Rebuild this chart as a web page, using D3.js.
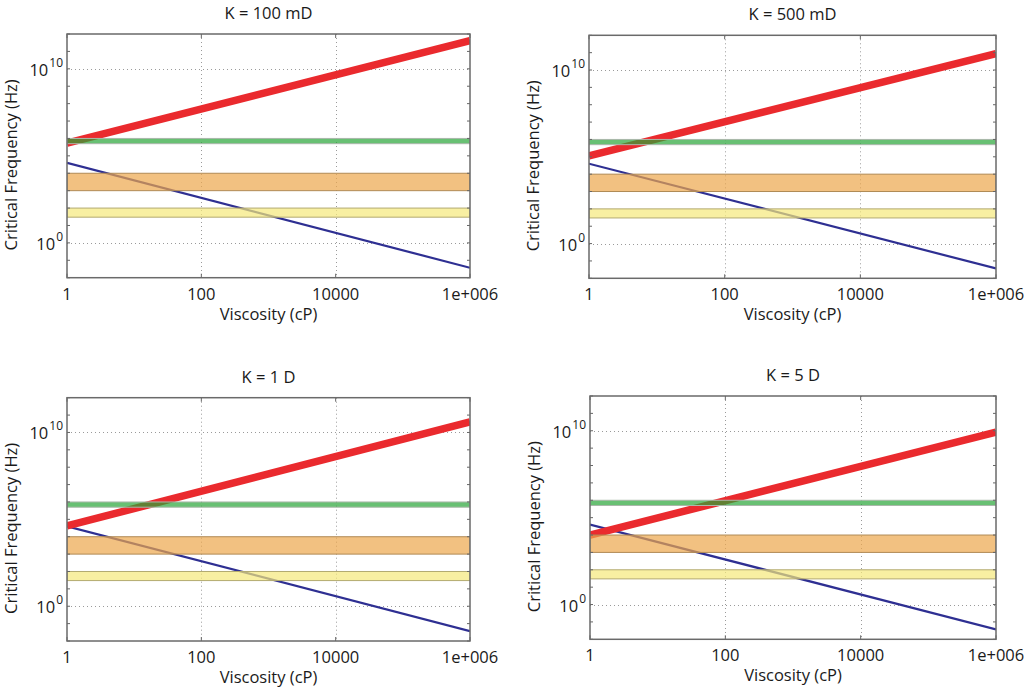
<!DOCTYPE html>
<html><head><meta charset="utf-8">
<script src="https://cdn.jsdelivr.net/npm/d3@7"></script>
<style>
body{margin:0;background:#fff;}
text{font-family:"Open Sans","Liberation Sans",sans-serif;fill:#1a1a1a;}
</style></head>
<body>
<svg id="c" width="1026" height="687"></svg>
<script>
// ---- data ----
const titles = ["K = 100 mD", "K = 500 mD", "K = 1 D", "K = 5 D"];
const viscosityRange = [1, 1e6];
const freqRange = [1e-2, 1e12];
// red (Biot critical frequency) line: value at 1 cP and at 1e6 cP, per panel
const redAt1 = [5.4e5, 1.12e5, 4.2e4, 1.0e4];
const redAt1e6 = [4.2e11, 8.7e10, 4.1e10, 8.3e9];
// blue line (same for all panels)
const blueAt1 = 4.0e4;
const blueAt1e6 = 0.037;
// frequency bands [low, high]
const bandNames = ["ultrasonic", "sonic", "seismic"];
const bandLow = [5e5, 1e3, 30];
const bandHigh = [1e6, 1e4, 100];
const xTickValues = [1, 100, 10000, 1e6];
const xTickLabels = ["1", "100", "10000", "1e+006"];
const yTickValues = [1, 1e10];
const yTickExp = ["0", "10"];

// ---- layout ----
const boxes = [
  {x0: 67, x1: 470, y0: 34, y1: 277.7},
  {x0: 589, x1: 996, y0: 35.3, y1: 278.3},
  {x0: 67, x1: 470, y0: 397.7, y1: 641},
  {x0: 590, x1: 996, y0: 396, y1: 639.3}
];
const bandFill = ["rgb(40,165,55)", "rgb(236,166,76)", "rgb(245,232,122)"];
const bandStroke = ["#aab8aa", "#b08a55", "#b3aa70"];
const FS = 16.5;

const svg = d3.select("#c");

boxes.forEach((b, i) => {
  const x = d3.scaleLog().domain(viscosityRange).range([b.x0, b.x1]);
  const y = d3.scaleLog().domain(freqRange).range([b.y1, b.y0]);
  const g = svg.append("g");
  const clipId = "clip" + i;
  svg.append("clipPath").attr("id", clipId).append("rect")
    .attr("x", b.x0).attr("y", b.y0).attr("width", b.x1 - b.x0).attr("height", b.y1 - b.y0);

  // grid
  const grid = g.append("g").attr("stroke", "#9a9a9a").attr("stroke-width", 1)
    .attr("stroke-dasharray", "1,3");
  grid.selectAll(".gx").data(xTickValues.slice(1, -1)).join("line")
    .attr("x1", d => Math.round(x(d)) + 0.5).attr("x2", d => Math.round(x(d)) + 0.5)
    .attr("y1", b.y0).attr("y2", b.y1);
  grid.selectAll(".gy").data(yTickValues).join("line")
    .attr("y1", d => Math.round(y(d)) + 0.5).attr("y2", d => Math.round(y(d)) + 0.5)
    .attr("x1", b.x0).attr("x2", b.x1);

  const plot = g.append("g").attr("clip-path", `url(#${clipId})`);
  const line = d3.line().x(d => x(d[0])).y(d => y(d[1]));
  // blue line
  plot.append("path").datum([[viscosityRange[0], blueAt1], [viscosityRange[1], blueAt1e6]])
    .attr("d", line).attr("fill", "none").attr("stroke", "#2e2f92").attr("stroke-width", 2.2);
  // red line
  plot.append("path").datum([[viscosityRange[0], redAt1[i]], [viscosityRange[1], redAt1e6[i]]])
    .attr("d", line).attr("fill", "none").attr("stroke", "#ea2a2e").attr("stroke-width", 7.5);
  // bands
  plot.selectAll(".band").data(bandNames).join("rect")
    .attr("x", b.x0).attr("width", b.x1 - b.x0)
    .attr("y", (d, j) => y(bandHigh[j])).attr("height", (d, j) => y(bandLow[j]) - y(bandHigh[j]))
    .attr("fill", (d, j) => bandFill[j]).attr("fill-opacity", 0.7)
    .attr("stroke", (d, j) => bandStroke[j]).attr("stroke-width", 1);

  // minor ticks on y (each decade)
  const decades = d3.range(-2, 13).map(e => Math.pow(10, e));
  const tk = g.append("g").attr("stroke", "#666").attr("stroke-width", 1);
  tk.selectAll(".ml").data(decades).join("line")
    .attr("x1", b.x0).attr("x2", b.x0 + 3)
    .attr("y1", d => y(d)).attr("y2", d => y(d));
  tk.selectAll(".mr").data(decades).join("line")
    .attr("x1", b.x1).attr("x2", b.x1 - 3)
    .attr("y1", d => y(d)).attr("y2", d => y(d));
  tk.selectAll(".xb").data(xTickValues).join("line")
    .attr("x1", d => x(d)).attr("x2", d => x(d)).attr("y1", b.y1).attr("y2", b.y1 - 4);
  tk.selectAll(".xt").data(xTickValues).join("line")
    .attr("x1", d => x(d)).attr("x2", d => x(d)).attr("y1", b.y0).attr("y2", b.y0 + 4);

  // box
  g.append("rect").attr("x", b.x0).attr("y", b.y0)
    .attr("width", b.x1 - b.x0).attr("height", b.y1 - b.y0)
    .attr("fill", "none").attr("stroke", "#6a6a6a").attr("stroke-width", 1.5);

  // x tick labels
  g.selectAll(".xl").data(xTickValues).join("text")
    .attr("x", d => x(d)).attr("y", b.y1 + 22)
    .attr("text-anchor", "middle").attr("font-size", FS)
    .text((d, j) => xTickLabels[j]);
  // y tick labels
  g.selectAll(".yl").data(yTickValues).join("text")
    .attr("x", b.x0 - 4).attr("y", d => y(d) + 7)
    .attr("text-anchor", "end").attr("font-size", FS)
    .each(function(d, j) {
      const t = d3.select(this);
      t.append("tspan").text("10");
      t.append("tspan").attr("dy", -9).attr("font-size", 12).attr("dx", 1).text(yTickExp[j]);
    });
  // axis labels
  g.append("text").attr("x", (b.x0 + b.x1) / 2).attr("y", b.y1 + 42)
    .attr("text-anchor", "middle").attr("font-size", FS).text("Viscosity (cP)");
  g.append("text")
    .attr("transform", `translate(${b.x0 - 50},${(b.y0 + b.y1) / 2 + 9}) rotate(-90)`)
    .attr("text-anchor", "middle").attr("font-size", FS).text("Critical Frequency (Hz)");
  // title
  g.append("text").attr("x", (b.x0 + b.x1) / 2).attr("y", b.y0 - 15)
    .attr("text-anchor", "middle").attr("font-size", FS).text(titles[i]);
});
</script>
</body></html>
